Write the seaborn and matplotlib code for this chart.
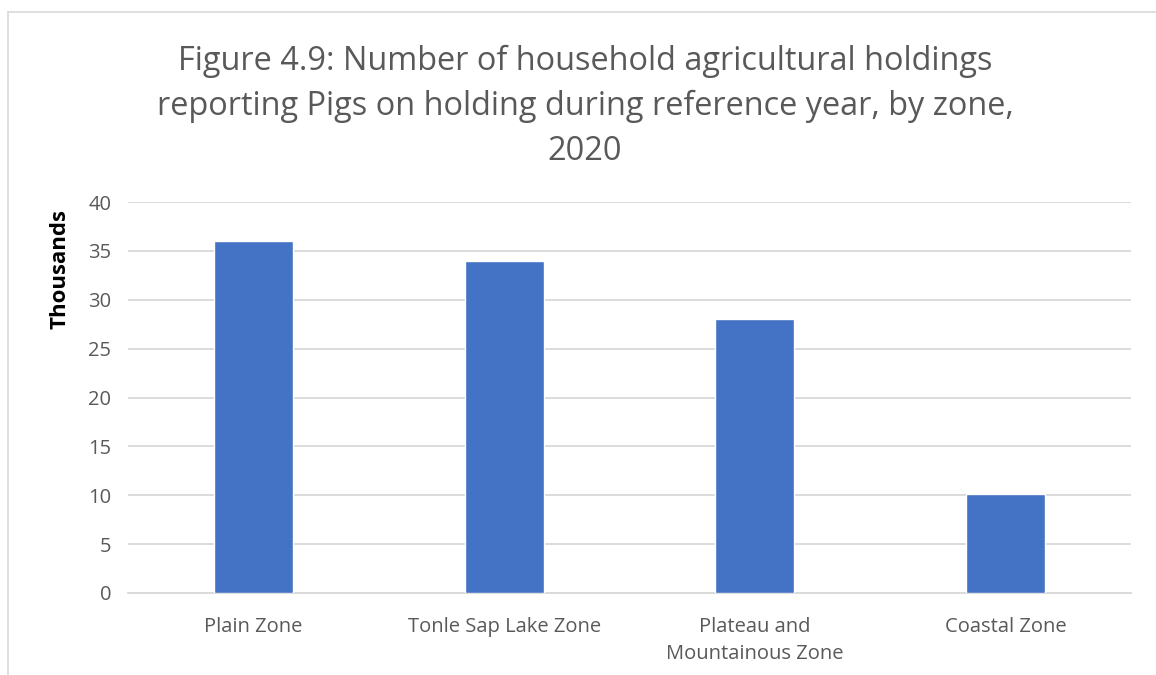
import matplotlib
matplotlib.use("Agg")
import matplotlib.pyplot as plt
import pandas as pd
import seaborn as sns

# data (thousands of holdings)
zones = ["Plain Zone", "Tonle Sap Lake Zone", "Plateau and\nMountainous Zone", "Coastal Zone"]
holdings = [36.0, 34.0, 28.0, 10.1]
yticks = [0, 5, 10, 15, 20, 25, 30, 35, 40]

df = pd.DataFrame({"zone": zones, "value": holdings})

sns.set_theme(style="white")
plt.rcParams["font.family"] = ["Open Sans", "DejaVu Sans"]

fig = plt.figure(figsize=(11.56, 6.75), dpi=100)
ax = fig.add_axes([128 / 1156, (675 - 593) / 675, (1131 - 128) / 1156, (593 - 202) / 675])

sns.barplot(data=df, x="zone", y="value", color="#4472C4", width=0.315,
            saturation=1, ax=ax, zorder=3)

ax.set_ylim(0, 40)
ax.set_yticks(yticks)
ax.set_xlim(-0.5, 3.5)
ax.grid(axis="y", color="#D9D9D9", linewidth=1.3, zorder=0)
for s in ["top", "right", "left"]:
    ax.spines[s].set_visible(False)
ax.spines["bottom"].set_color("#D9D9D9")
ax.spines["bottom"].set_linewidth(1.3)
ax.tick_params(axis="both", length=0, labelsize=14.5, colors="#595959")
ax.tick_params(axis="y", pad=12)
ax.tick_params(axis="x", pad=17)
for lbl in ax.get_xticklabels():
    lbl.set_linespacing(1.5)
ax.set_xlabel("")
ax.set_ylabel("")

fig.text(60 / 1156, 1 - 269 / 675, "Thousands", rotation=90, ha="center", va="center",
         fontsize=16, fontweight="bold", color="black")

fig.text(585 / 1156, 1 - 45 / 675, "Figure 4.9: Number of household agricultural holdings\n"
         "reporting Pigs on holding during reference year, by zone,\n2020",
         ha="center", va="top", fontsize=23.4, color="#595959", linespacing=1.47)

# outer chart frame (left and top edges)
fig.add_artist(plt.Line2D([8 / 1156, 8 / 1156], [0, 1 - 12 / 675], color="#D9D9D9", lw=1.2))
fig.add_artist(plt.Line2D([8 / 1156, 1], [1 - 12 / 675, 1 - 12 / 675], color="#D9D9D9", lw=1.2))

fig.savefig("out.png", dpi=100)
